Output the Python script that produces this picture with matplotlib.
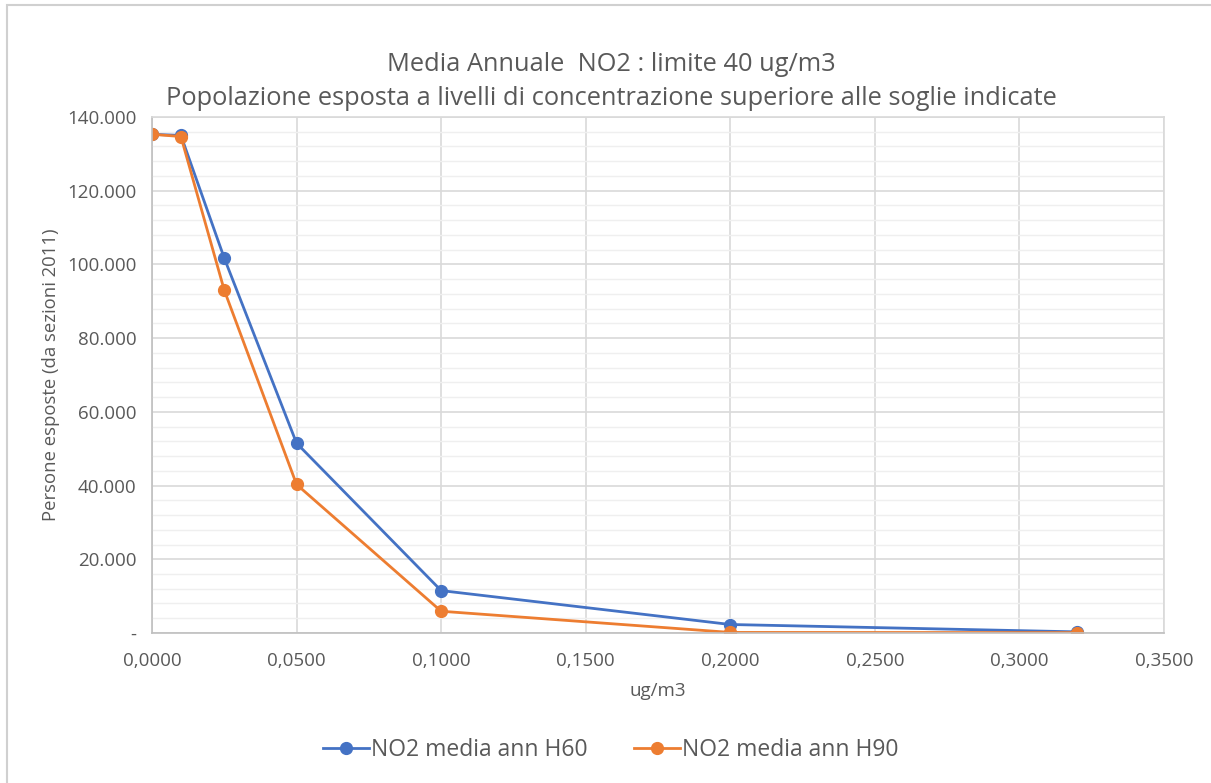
import numpy as np
import matplotlib.pyplot as plt
from matplotlib.ticker import FuncFormatter, MultipleLocator
from matplotlib.patches import Rectangle

plt.rcParams['font.family'] = ['Open Sans', 'DejaVu Sans']

# Soglie (ug/m3) e popolazione esposta
soglie = [0.0, 0.01, 0.025, 0.05, 0.1, 0.2, 0.32]
h60 = [135300, 135000, 101700, 51500, 11500, 2300, 300]
h90 = [135300, 134700, 93000, 40300, 5900, 150, 100]
labels = ["NO2 media ann H60", "NO2 media ann H90"]
colors = ["#4472C4", "#ED7D31"]

fig = plt.figure(figsize=(12.11, 7.83), dpi=100)
fig.patches.append(Rectangle((0.006, -0.01), 1.2, 1.004, transform=fig.transFigure,
                             fill=False, edgecolor="#D0D0D0", linewidth=1.5))
ax = fig.add_axes([0.1255, 0.1916, 0.8357, 0.659])

for y, lab, c in zip([h60, h90], labels, colors):
    ax.plot(soglie, y, color=c, linewidth=2.0, marker="o", markersize=8.5, label=lab)

ax.set_xlim(0, 0.35)
ax.set_ylim(0, 140000)
ax.xaxis.set_major_locator(MultipleLocator(0.05))
ax.yaxis.set_major_locator(MultipleLocator(20000))
ax.yaxis.set_minor_locator(MultipleLocator(4000))
ax.xaxis.set_major_formatter(FuncFormatter(lambda v, p: f"{v:.4f}".replace(".", ",")))
ax.yaxis.set_major_formatter(FuncFormatter(
    lambda v, p: "-" if v == 0 else f"{int(v):,}".replace(",", ".")))

ax.grid(which="major", color="#D9D9D9", linewidth=1.2)
ax.grid(which="minor", axis="y", color="#EFEFEF", linewidth=1.0)
ax.set_axisbelow(True)
for s in ax.spines.values():
    s.set_color("#D9D9D9")
    s.set_linewidth(1.2)
ax.spines["left"].set_color("#BFBFBF")
ax.spines["bottom"].set_color("#BFBFBF")
ax.tick_params(which="both", length=0, colors="#595959", labelsize=13.5)
ax.tick_params(axis="x", pad=14)
ax.tick_params(axis="y", pad=11)

ax.set_xlabel("ug/m3", fontsize=13.5, color="#595959", labelpad=8)
ax.set_ylabel("Persone esposte (da sezioni 2011)", fontsize=13.3, color="#595959", labelpad=5)

fig.text(0.5045, 0.918, "Media Annuale  NO2 : limite 40 ug/m3", ha="center", va="center",
         fontsize=18.3, color="#595959")
fig.text(0.5045, 0.874, "Popolazione esposta a livelli di concentrazione superiore alle soglie indicate",
         ha="center", va="center", fontsize=18.3, color="#595959")

leg = fig.legend(loc="center", bbox_to_anchor=(0.5045, 0.042), ncol=2, frameon=False,
                 fontsize=16.5, handlelength=2.0, handletextpad=0.1, columnspacing=2.0)
for t in leg.get_texts():
    t.set_color("#595959")

fig.savefig("out.png", dpi=100, facecolor="white")
